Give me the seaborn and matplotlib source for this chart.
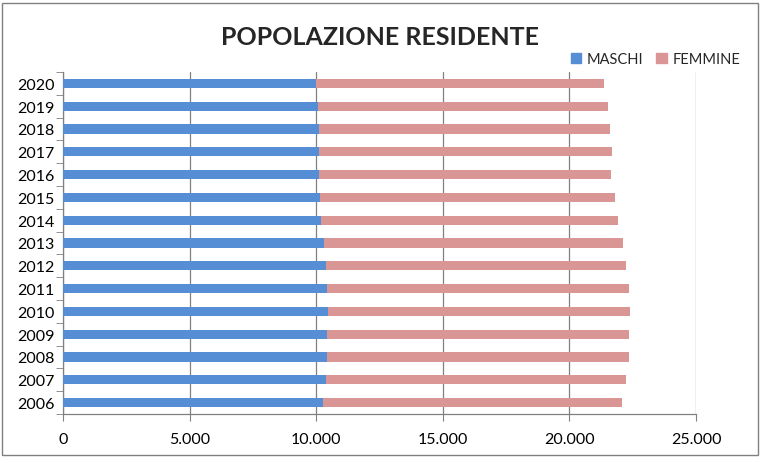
import pandas as pd
import matplotlib.pyplot as plt
import seaborn as sns
from matplotlib.ticker import FuncFormatter, FixedLocator
from matplotlib.patches import Rectangle, Patch

# Popolazione residente per anno
anni = ['2020', '2019', '2018', '2017', '2016', '2015', '2014', '2013',
        '2012', '2011', '2010', '2009', '2008', '2007', '2006']
maschi = [9990, 10060, 10110, 10110, 10110, 10150, 10170, 10300,
          10380, 10420, 10460, 10420, 10420, 10380, 10260]
femmine = [11360, 11450, 11480, 11560, 11520, 11640, 11740, 11810,
           11840, 11920, 11920, 11920, 11920, 11840, 11800]
xticks = [0, 5000, 10000, 15000, 20000, 25000]

df = pd.DataFrame({'anno': anni, 'MASCHI': maschi, 'FEMMINE': femmine})
df['totale'] = df['MASCHI'] + df['FEMMINE']

blu = '#558ED5'
rosa = '#D99694'

sns.set_style('white')
plt.rcParams['font.family'] = ['Lato', 'DejaVu Sans']

fig = plt.figure(figsize=(7.65, 4.64), dpi=100)
ax = fig.add_axes([0.0824, 0.1056, 0.8274, 0.7371])

# stacked: total (pink) first, then males (blue) over it
sns.barplot(data=df, x='totale', y='anno', order=anni, color=rosa,
            width=0.4, saturation=1, linewidth=0, ax=ax, zorder=3)
sns.barplot(data=df, x='MASCHI', y='anno', order=anni, color=blu,
            width=0.4, saturation=1, linewidth=0, ax=ax, zorder=3)

ax.set_xlim(0, 25000)
ax.set_ylim(len(anni) - 0.5, -0.5)
ax.xaxis.set_major_locator(FixedLocator(xticks))
ax.xaxis.set_major_formatter(FuncFormatter(lambda v, p: f'{int(v):,}'.replace(',', '.')))
ax.set_xlabel('')
ax.set_ylabel('')

ax.grid(axis='x', color='#808080', linewidth=0.9, zorder=0)
ax.set_axisbelow(True)
for s in ['top', 'right']:
    ax.spines[s].set_visible(False)
for s in ['left', 'bottom']:
    ax.spines[s].set_color('#808080')
    ax.spines[s].set_linewidth(0.9)

ax.yaxis.set_minor_locator(FixedLocator([i - 0.5 for i in range(len(anni) + 1)]))
ax.tick_params(axis='y', which='major', length=0, pad=6, labelsize=11.5, colors='black')
ax.tick_params(axis='y', which='minor', length=5, color='#808080', direction='out', left=True)
ax.tick_params(axis='x', which='major', length=5, color='#808080', direction='out',
               bottom=True, pad=8, labelsize=11.5, colors='black')

fig.text(0.497, 0.92, 'POPOLAZIONE RESIDENTE', ha='center', va='center',
         fontsize=18, fontweight='bold')

handles = [Patch(color=blu, label='MASCHI'), Patch(color=rosa, label='FEMMINE')]
fig.legend(handles=handles, loc='center right', bbox_to_anchor=(0.985, 0.871), ncol=2,
           frameon=False, fontsize=10.5, handlelength=0.7, handleheight=0.7,
           handletextpad=0.4, columnspacing=0.9)

fig.patches.append(Rectangle((0.003, 0.017), 0.988, 0.975, transform=fig.transFigure,
                             fill=False, edgecolor='#808080', linewidth=1))

fig.savefig('out.png', dpi=100)
